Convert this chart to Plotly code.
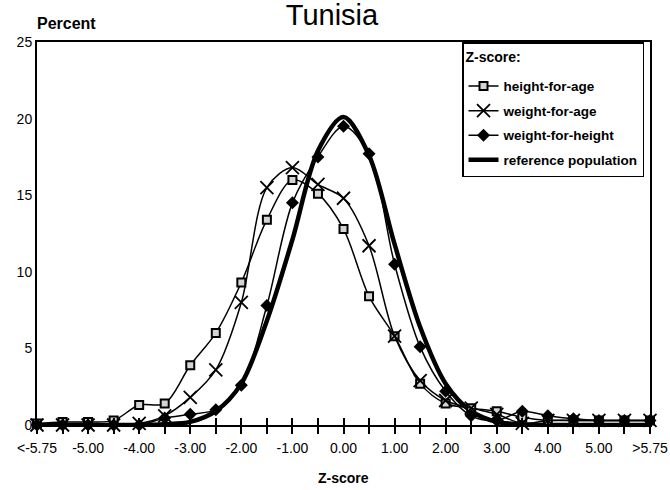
import plotly.graph_objects as go

# Z-score categories (numeric positions, 0.5 steps; ends are open-ended bins)
z_positions = [-6.0, -5.5, -5.0, -4.5, -4.0, -3.5, -3.0, -2.5, -2.0, -1.5, -1.0, -0.5,
               0.0, 0.5, 1.0, 1.5, 2.0, 2.5, 3.0, 3.5, 4.0, 4.5, 5.0, 5.5, 6.0]

height_for_age = [0.1, 0.2, 0.2, 0.3, 1.3, 1.4, 3.9, 6.0, 9.3, 13.4, 16.0, 15.1,
                  12.8, 8.4, 5.8, 2.7, 1.4, 1.1, 0.9, 0.5, 0.3, 0.3, 0.3, 0.3, 0.3]
weight_for_age = [0.0, 0.0, 0.0, 0.0, 0.1, 0.6, 1.8, 3.6, 8.0, 15.5, 16.8, 15.7,
                  14.8, 11.7, 5.8, 2.9, 1.6, 1.1, 0.7, 0.1, 0.3, 0.3, 0.3, 0.3, 0.3]
weight_for_height = [0.0, 0.0, 0.0, 0.0, 0.0, 0.45, 0.7, 1.0, 2.6, 7.8, 14.5, 17.5,
                     19.5, 17.7, 10.5, 5.1, 2.2, 0.6, 0.3, 0.9, 0.6, 0.4, 0.3, 0.3, 0.3]
reference_population = [0.0, 0.0, 0.0, 0.0, 0.0, 0.05, 0.2, 0.9, 2.7, 6.8, 12.1, 17.9,
                        20.1, 17.6, 11.8, 6.4, 2.7, 0.9, 0.2, 0.05, 0.0, 0.0, 0.0, 0.0, 0.0]

x_tick_values = [-6, -5, -4, -3, -2, -1, 0, 1, 2, 3, 4, 5, 6]
x_tick_labels = ["<-5.75", "-5.00", "-4.00", "-3.00", "-2.00", "-1.00", "0.00",
                 "1.00", "2.00", "3.00", "4.00", "5.00", ">5.75"]
y_tick_values = [0, 5, 10, 15, 20, 25]

FONT = "Liberation Sans, Arial, sans-serif"
W, H = 670, 490
L, R, T, B = 37, 20, 42, 65
pw, ph = W - L - R, H - T - B

fig = go.Figure()

fig.add_trace(go.Scatter(
    x=z_positions, y=reference_population, name="reference population",
    mode="lines", line=dict(color="black", width=4.5, shape="spline", smoothing=0.9),
    legendrank=4, legendgroup="d", cliponaxis=False))

fig.add_trace(go.Scatter(
    x=z_positions, y=height_for_age, name="height-for-age",
    mode="lines+markers", line=dict(color="black", width=1.5, shape="spline", smoothing=0.9),
    marker=dict(symbol="square", size=8, color="#d4d4d4", line=dict(color="black", width=2)),
    legendrank=1, legendgroup="a", cliponaxis=False))

fig.add_trace(go.Scatter(
    x=z_positions, y=weight_for_age, name="weight-for-age",
    mode="lines+markers", line=dict(color="black", width=1.5, shape="spline", smoothing=0.9),
    marker=dict(symbol="x-thin-open", size=13, color="black", line=dict(color="black", width=1.8)),
    legendrank=2, legendgroup="b", cliponaxis=False))

fig.add_trace(go.Scatter(
    x=z_positions, y=weight_for_height, name="weight-for-height",
    mode="lines+markers", line=dict(color="black", width=1.5, shape="spline", smoothing=0.9),
    marker=dict(symbol="diamond", size=10, color="black"),
    legendrank=3, legendgroup="c", cliponaxis=False))

# invisible helper trace for the overlay axis carrying the inward tick halves
fig.add_trace(go.Scatter(x=[], y=[], xaxis="x2", showlegend=False, hoverinfo="skip"))

legend_title = ("<span style='font-size:4px'> </span><br>"
                "<span style='font-size:14px'><b>Z-score:</b></span><br>"
                "<span style='font-size:4px'> </span>")

fig.update_layout(
    width=W, height=H,
    margin=dict(l=L, r=R, t=T, b=B),
    paper_bgcolor="white", plot_bgcolor="white",
    font=dict(family=FONT, color="black", size=13),
    showlegend=True,
    legend=dict(
        x=(462 - L) / pw, y=1.0, xanchor="left", yanchor="top",
        bgcolor="white", bordercolor="black", borderwidth=1.5,
        font=dict(family=FONT, size=13.5, color="black", weight="bold"),
        title=dict(text=legend_title, font=dict(family=FONT, size=7, color="black")),
        traceorder="grouped", tracegroupgap=4, itemwidth=30,
    ),
    xaxis=dict(
        range=[-6, 6], tickmode="array", tickvals=x_tick_values, ticktext=x_tick_labels,
        ticks="outside", ticklen=7, tickwidth=1.5, tickcolor="black",
        minor=dict(dtick=0.5, tick0=0, ticks="outside", ticklen=7, tickwidth=1.5, tickcolor="black"),
        showline=True, linecolor="black", linewidth=2, mirror=True,
        showgrid=False, zeroline=False, automargin=False, ticklabelstandoff=2,
        tickfont=dict(family=FONT, size=14, color="black"),
    ),
    xaxis2=dict(
        range=[-6, 6], overlaying="x", anchor="y", side="bottom",
        tickmode="linear", tick0=0, dtick=0.5,
        ticks="inside", ticklen=7, tickwidth=1.5, tickcolor="black",
        showticklabels=False, showline=False, showgrid=False, zeroline=False,
    ),
    yaxis=dict(
        range=[0, 25], tickmode="array", tickvals=y_tick_values,
        ticks="", showline=True, linecolor="black", linewidth=2, mirror=True,
        showgrid=False, zeroline=False, automargin=False,
        tickfont=dict(family=FONT, size=14, color="black"),
    ),
    title=dict(
        text="Tunisia", x=332 / W, xref="container", xanchor="center",
        y=1 - 5 / H, yref="container", yanchor="top", pad=dict(t=0, b=0),
        font=dict(family=FONT, size=29, color="black"),
    ),
    annotations=[
        dict(text="<b>Percent</b>", xref="paper", yref="paper",
             x=(66 - L) / pw, y=(H - B - 24) / ph, xanchor="center", yanchor="middle",
             showarrow=False, font=dict(family=FONT, size=16, color="black")),
        dict(text="<b>Z-score</b>", xref="paper", yref="paper",
             x=(343 - L) / pw, y=(H - B - 478) / ph, xanchor="center", yanchor="middle",
             showarrow=False, font=dict(family=FONT, size=14, color="black")),
    ],
)

fig.write_html("out.html")
